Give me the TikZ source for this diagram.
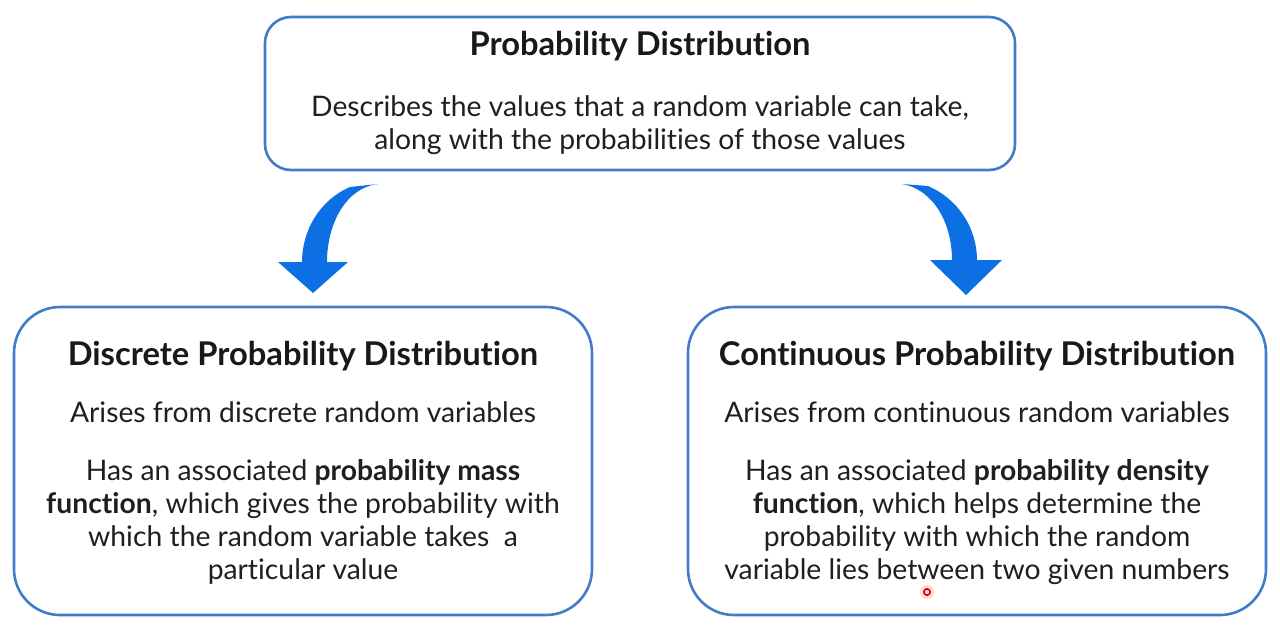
\documentclass[tikz,border=0pt]{standalone}
\usepackage{fontspec}
\setmainfont{Lato}[Ligatures={NoCommon,NoRequired,NoContextual}]
\definecolor{boxblue}{RGB}{66,124,200}
\definecolor{arrowblue}{RGB}{12,112,228}
\tikzset{
  card/.style={draw=boxblue, line width=2.6pt, fill=white},
  ttl/.style={anchor=base, font=\fontsize{32.7}{36}\selectfont\bfseries, text=black!90, inner sep=0pt},
  txt/.style={anchor=base, font=\fontsize{28.3}{33}\selectfont, text=black!88, inner sep=0pt},
  bigarrow/.style={fill=arrowblue, draw=none}
}
\begin{document}
\begin{tikzpicture}[x=1pt,y=-1pt]
\useasboundingbox (0,0) rectangle (1280,633);
\fill[white] (0,0) rectangle (1280,633);
% boxes
\draw[card, rounded corners=26pt] (265,17) rectangle (1015,170);
\draw[card, rounded corners=46pt] (14,307) rectangle (592,615);
\draw[card, rounded corners=46pt] (688,307) rectangle (1266,615);
% top text
\node[ttl] (t0) at (640,55) {Probability Distribution};
\node[txt] (t1) at (640,116.5) {Describes the values that a random variable can take,};
\node[txt] (t2) at (640,149.5) {along with the probabilities of those values};
% left
\node[ttl] (l0) at (303,365) {Discrete Probability Distribution};
\node[txt] (l1) at (303,422) {Arises from discrete random variables};
\node[txt] (l2) at (303,480) {Has an associated \textbf{probability mass}};
\node[txt] (l3) at (303,513) {\textbf{function}, which gives the probability with};
\node[txt] (l4) at (303,546) {which the random variable takes\ \ a};
\node[txt] (l5) at (303,579) {particular value};
% right
\node[ttl] (r0) at (977,365) {Continuous Probability Distribution};
\node[txt] (r1) at (977,422) {Arises from continuous random variables};
\node[txt] (r2) at (977,480) {Has an associated \textbf{probability density}};
\node[txt] (r3) at (977,513) {\textbf{function}, which helps determine the};
\node[txt] (r4) at (977,546) {probability with which the random};
\node[txt] (r5) at (977,579) {variable lies between two given numbers};
% arrows
\fill[bigarrow] (350,187) -- (378,184) .. controls (345,188) and (327,225) .. (327,262)
  -- (348,262) -- (313,293) -- (278,262) -- (302,262)
  .. controls (302,230) and (320,200) .. (350,187) -- cycle;
\fill[bigarrow] (902,184) -- (928,186) .. controls (960,200) and (977,230) .. (977,260)
  -- (1002,260) -- (966,295) -- (930,260) -- (952,260)
  .. controls (952,225) and (935,190) .. (902,184) -- cycle;
% pointer mark
\fill[red!15] (927,592) circle (7);
\draw[red!85!black, line width=1.6pt] (927,592) circle (3.2);
\end{tikzpicture}
\end{document}
